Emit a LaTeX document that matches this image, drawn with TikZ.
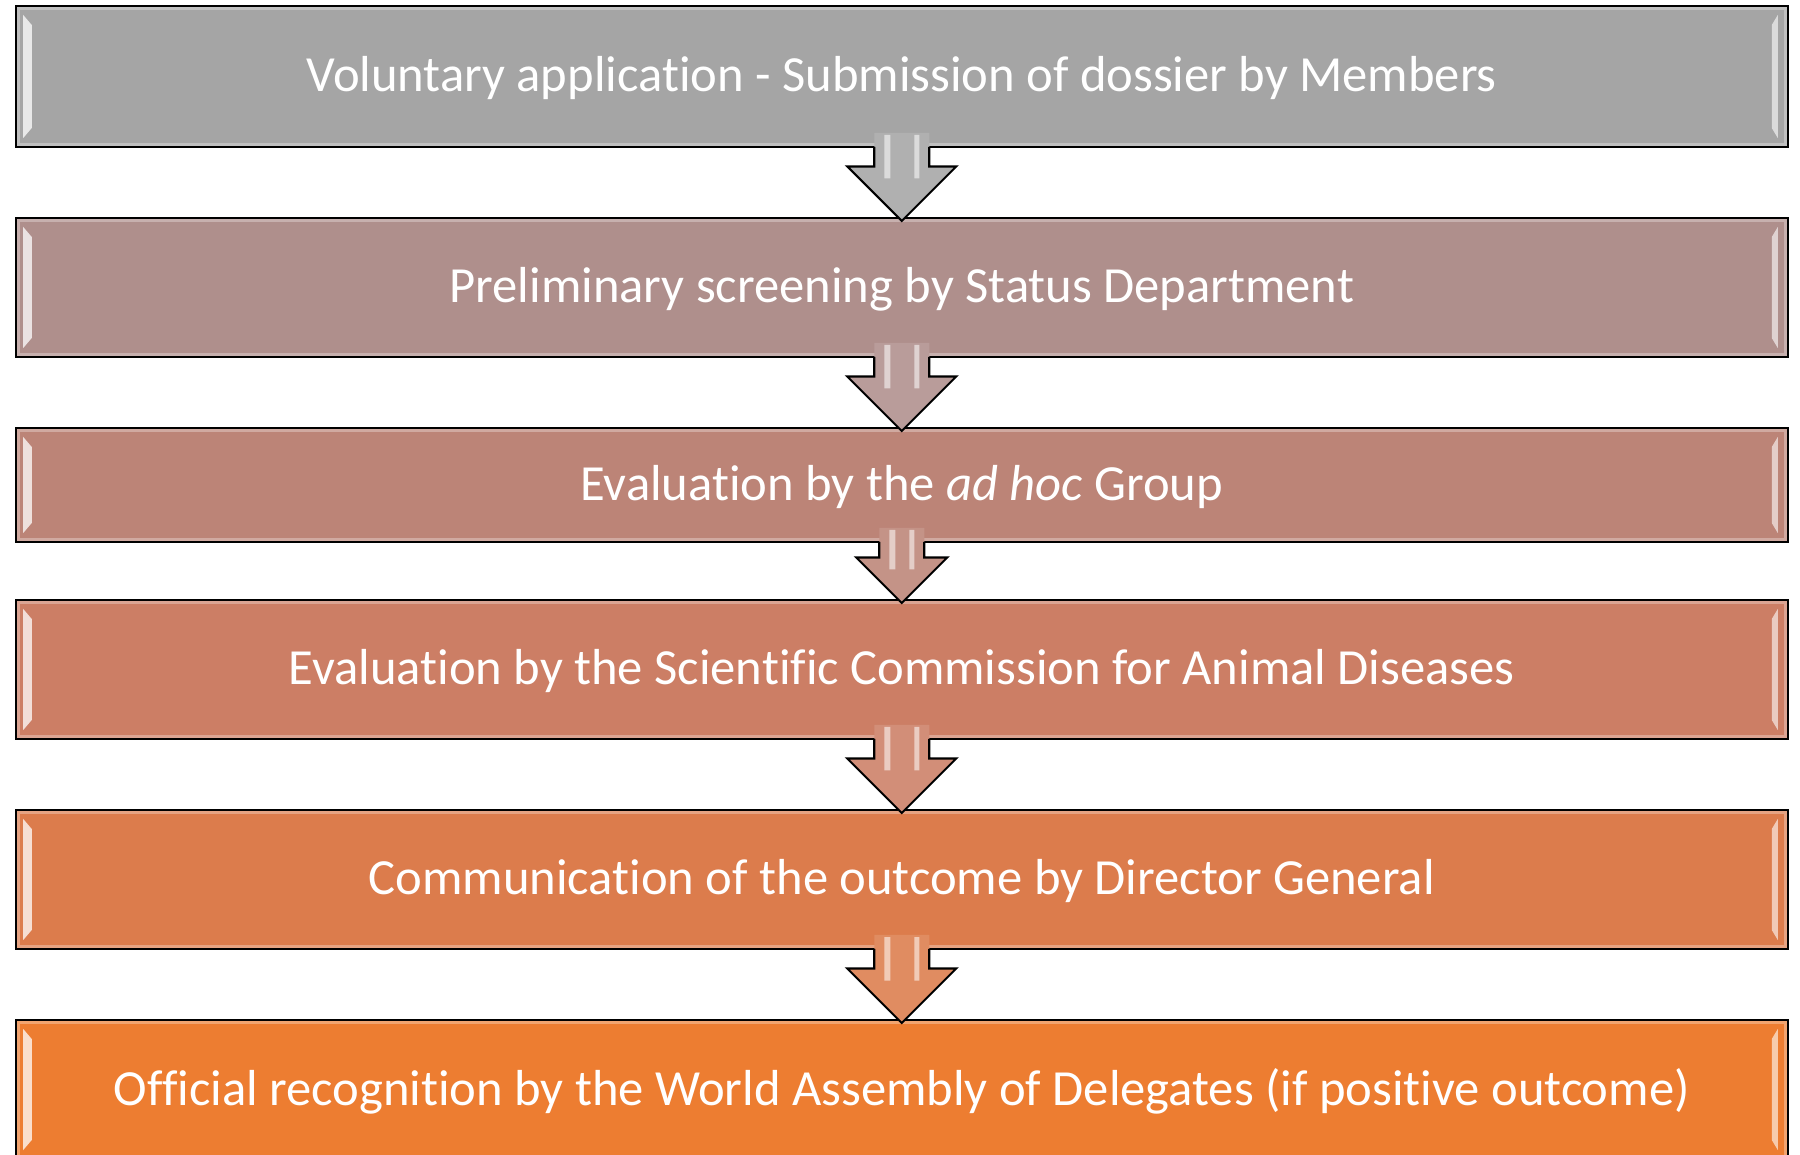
\documentclass[tikz,border=0pt]{standalone}
\usepackage{fontspec}
\setmainfont{Carlito}[Ligatures=NoCommon]
\usetikzlibrary{positioning,calc}

\definecolor{stage1}{HTML}{A5A5A5}
\definecolor{stage2}{HTML}{AF8F8C}
\definecolor{stage3}{HTML}{BC8477}
\definecolor{stage4}{HTML}{CC7E65}
\definecolor{stage5}{HTML}{DC7C4C}
\definecolor{stage6}{HTML}{ED7D31}

\tikzset{
    block/.style = {draw, line width=0.6pt, rectangle, outer sep=0pt, inner sep=0pt,
        minimum width=17.72cm, minimum height=1.39cm,
        text height=0.4cm, text depth=0.09cm,
        text=white, font=\fontsize{14.4}{17}\selectfont,
        path picture={
            \draw[white, opacity=0.3, line width=0.8mm]
                (path picture bounding box.south west) rectangle (path picture bounding box.north east);
            \fill[white, opacity=0.75]
                ($(path picture bounding box.north west)+(0.075,-0.09)$) -- ++(0.085,-0.1)
                -- ($(path picture bounding box.south west)+(0.16,0.19)$) -- ++(-0.085,-0.1) -- cycle;
            \fill[white, opacity=0.6]
                ($(path picture bounding box.north east)+(-0.1,-0.09)$) -- ++(-0.06,-0.1)
                -- ($(path picture bounding box.south east)+(-0.16,0.19)$) -- ++(0.06,-0.1) -- cycle;
        }},
    flow/.style = {draw, line width=0.6pt, line join=miter},
    gloss/.style = {fill=white, opacity=0.55}
}

% block arrow: upper node, lower node, shaft half width, head half width, colour
\newcommand\flowarrow[5]{%
    \fill[#5!88!white] let \p1=(#1.south), \p2=(#2.north) in
        (\x1-#3,\y1+0.14cm) -- (\x1-#3,\y2+#4-0.03cm) -- (\x1-#4,\y2+#4-0.03cm) -- (\x1,\y2-0.03cm)
        -- (\x1+#4,\y2+#4-0.03cm) -- (\x1+#3,\y2+#4-0.03cm) -- (\x1+#3,\y1+0.14cm) -- cycle;
    \path[gloss] let \p1=(#1.south), \p2=(#2.north) in
        (\x1-#3+0.1cm,\y1+0.12cm) rectangle (\x1-#3+0.16cm,\y2+#4-0.15cm)
        (\x1+#3-0.15cm,\y1+0.12cm) rectangle (\x1+#3-0.1cm,\y2+#4-0.15cm);
    \draw[flow] let \p1=(#1.south), \p2=(#2.north) in
        (\x1-#3,\y1) -- (\x1-#3,\y2+#4-0.03cm) -- (\x1-#4,\y2+#4-0.03cm) -- (\x1,\y2-0.03cm)
        -- (\x1+#4,\y2+#4-0.03cm) -- (\x1+#3,\y2+#4-0.03cm) -- (\x1+#3,\y1);
}

\begin{document}
\begin{tikzpicture}
    \path[use as bounding box, clip] (0,0) rectangle (18,-11.55);
    \node [block, fill=stage1, minimum height=1.41cm] (s1) at (9.0175,-0.765) {Voluntary application - Submission of dossier by Members};
    \node [block, fill=stage2, below=0.71cm of s1] (s2) {Preliminary screening by Status Department};
    \node [block, fill=stage3, below=0.71cm of s2, minimum height=1.14cm] (s3) {Evaluation by the \textit{ad hoc} Group};
    \node [block, fill=stage4, below=0.58cm of s3] (s4) {Evaluation by the Scientific Commission for Animal Diseases};
    \node [block, fill=stage5, below=0.71cm of s4] (s5) {Communication of the outcome by Director General};
    \node [block, fill=stage6, below=0.71cm of s5] (s6) {Official recognition by the World Assembly of Delegates (if positive outcome)};
    \foreach \a/\w/\h [evaluate=\a as \next using int(\a+1)] in {1/0.275cm/0.545cm, 2/0.275cm/0.545cm, 3/0.225cm/0.455cm, 4/0.275cm/0.545cm, 5/0.275cm/0.545cm}{
        \flowarrow{s\a}{s\next}{\w}{\h}{stage\a}
    }
\end{tikzpicture}
\end{document}
